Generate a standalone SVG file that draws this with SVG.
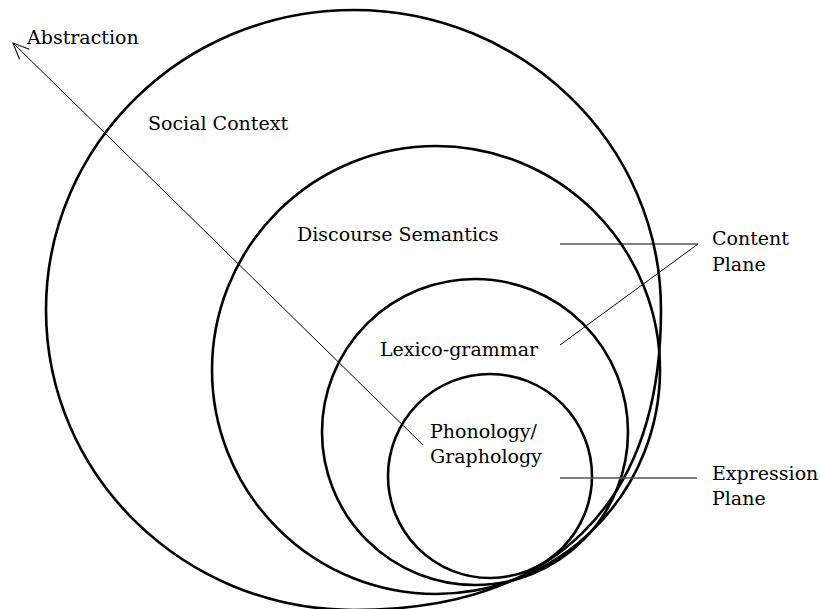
<svg xmlns="http://www.w3.org/2000/svg" width="820" height="609" viewBox="0 0 820 609">
<style>
.ring{fill:none;stroke:#000;stroke-width:2.6}
.lbl{font-family:"DejaVu Serif","Liberation Serif",serif;font-size:19px;fill:#000}
.conn{fill:none;stroke:#000;stroke-width:1}
.grey{fill:none;stroke:#555;stroke-width:1.3}
</style>
<defs>
<marker id="open" viewBox="0 0 20 20" refX="19" refY="10" markerWidth="20" markerHeight="20" markerUnits="userSpaceOnUse" orient="auto">
<path d="M3,3 L19,10 L3,17" fill="none" stroke="#000" stroke-width="1"/>
</marker>
</defs>
<rect width="820" height="609" fill="#fff"/>
<g id="social-context">
<path class="ring" d="M661,310 C661,505 553.4,610 353.5,610 C183.7,610 46,475.7 46,310 C46,144.3 183.7,10 353.5,10 C523.3,10 661,144.3 661,310 Z"/>
<text class="lbl" x="148" y="130">Social Context</text>
</g>
<g id="discourse-semantics">
<circle class="ring" cx="436" cy="370" r="224"/>
<text class="lbl" x="297" y="241">Discourse Semantics</text>
</g>
<g id="lexico-grammar">
<circle class="ring" cx="475" cy="432" r="153"/>
<text class="lbl" x="380" y="356">Lexico-grammar</text>
</g>
<g id="phonology-graphology">
<circle class="ring" cx="490" cy="476" r="102"/>
<text class="lbl" x="430" y="438">Phonology/</text>
<text class="lbl" x="430" y="463">Graphology</text>
</g>
<g id="abstraction">
<text class="lbl" x="27" y="44">Abstraction</text>
</g>
<g id="content-plane">
<text class="lbl" x="712" y="245">Content</text>
<text class="lbl" x="712" y="271">Plane</text>
</g>
<g id="expression-plane">
<text class="lbl" x="712" y="480">Expression</text>
<text class="lbl" x="712" y="505">Plane</text>
</g>
<g id="connectors">
<line class="conn" x1="423" y1="445" x2="13" y2="43" marker-end="url(#open)"/>
<polyline class="conn" points="560,244 698,244 560,345"/>
<line class="grey" x1="560" y1="478" x2="697" y2="478"/>
</g>
</svg>
